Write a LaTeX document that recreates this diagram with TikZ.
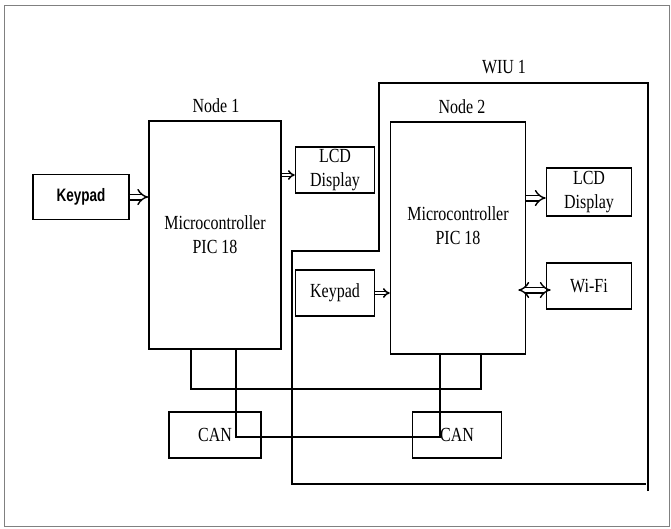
\documentclass[tikz,border=0pt]{standalone}
\usepackage{fontspec}
\setmainfont{Liberation Serif}[FakeStretch=0.8]
\newfontfamily\keyfont{Liberation Sans}[FakeStretch=0.75]
\usepackage{tikz}
\usetikzlibrary{
  arrows.meta,
  positioning
}

\begin{document}
\begin{tikzpicture}[
  x=1pt, y=-1pt,
  font=\fontsize{20}{24}\selectfont,
  box/.style={
    draw, line width=1.6pt,
    align=center, inner sep=0pt
  },
  mcu/.style={box,
    minimum width=132, minimum height=228},
  small/.style={box,
    minimum width=79, minimum height=46},
  side/.style={box,
    minimum width=85, minimum height=48},
  canbox/.style={box,
    minimum width=92, minimum height=46},
  title/.style={align=center},
  bigarrow/.style={
    double, double distance=4.2pt,
    line width=1.4pt, -{Implies}},
  thinarrow/.style={
    double, double distance=1.6pt,
    line width=1.5pt, -{Implies}},
  wire/.style={line width=1.5pt},
  wiu/.style={line width=1.9pt}
]

\useasboundingbox (0,0) rectangle (671,528);
\draw[gray, line width=1pt] (4,5) rectangle (669,526);

\node[box, minimum width=96, minimum height=45,
      font=\keyfont\bfseries\fontsize{18}{22}\selectfont]
  (keypad1) at (81,197) {Keypad};
\node[mcu] (mcu1) at (215,235)
  {Microcontroller\\PIC 18};
\node[title] (node1) at (216,106) {Node 1};
\node[small] (lcd1) at (335,170)
  {LCD\\Display};

\node[title] (wiu1) at (504,67) {WIU 1};
\node[mcu, minimum width=135, minimum height=232]
  (mcu2) at (458,238) {};
\node[title] (mcu2text) at (458,226)
  {Microcontroller\\PIC 18};
\node[title] (node2) at (462,107) {Node 2};
\node[side] (lcd2) at (589,192) {LCD\\Display};
\node[side, minimum height=46] (wifi) at (589,286) {Wi-Fi};
\node[small] (keypad2) at (335,293) {Keypad};

\node[canbox] (can1) at (215,435) {CAN};
\node[canbox, minimum width=89] (can2) at (457,435) {CAN};

\draw[wiu] (648,491) -- (648,83) -- (379,83)
  -- (379,251) -- (292,251) -- (292,484) -- (646,484);

\draw[bigarrow] (keypad1.east) -- (keypad1.east -| mcu1.west);
\draw[thinarrow] ([yshift=-5pt]lcd1.west -| mcu1.east)
  -- ([yshift=-5pt]lcd1.west);
\draw[bigarrow] ([yshift=-6pt]lcd2.west -| mcu2.east)
  -- ([yshift=-6pt]lcd2.west);
\draw[bigarrow, {Implies}-{Implies}]
  ([xshift=-8pt, yshift=-4pt]wifi.west -| mcu2.east)
  -- ([xshift=5pt, yshift=-4pt]wifi.west);
\draw[thinarrow] (keypad2.east) -- (keypad2.east -| mcu2.west);

\draw[wire] ([xshift=-24pt]mcu1.south) -- ++(0,39)
  -| ([xshift=23pt]mcu2.south);
\draw[wire] ([xshift=21pt]mcu1.south) -- ++(0,87)
  -| ([xshift=-18pt]mcu2.south);

\end{tikzpicture}
\end{document}
